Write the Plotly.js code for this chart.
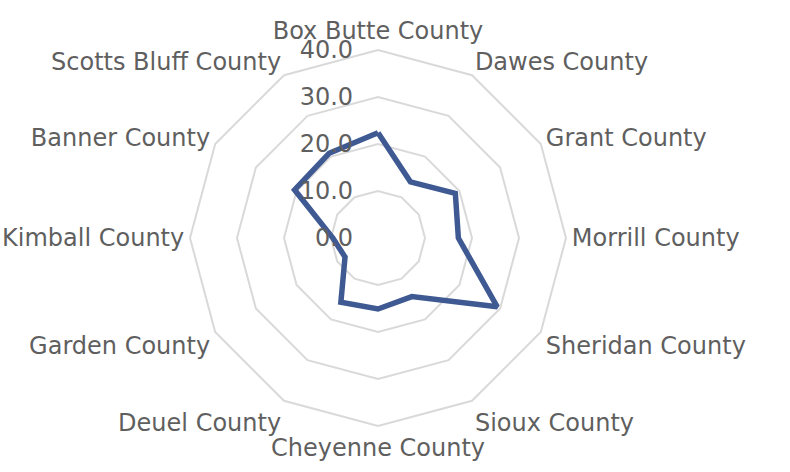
<!DOCTYPE html>
<html>
<head>
<meta charset="utf-8">
<script src="https://cdn.plot.ly/plotly-3.0.1.min.js"></script>
<style>html,body{margin:0;padding:0;background:#fff;}#chart{width:790px;height:472px;}</style>
</head>
<body>
<div id="chart"></div>
<script>
const categories = ["Box Butte County","Dawes County","Grant County","Morrill County","Sheridan County","Sioux County","Cheyenne County","Deuel County","Garden County","Kimball County","Banner County","Scotts Bluff County"];
const values = [22.4, 13.8, 19.0, 17.1, 29.3, 14.4, 15.1, 15.8, 8.1, 9.6, 20.5, 20.8];
const radialTicks = [0, 10, 20, 30, 40];
const radialTickText = ["0.0", "10.0", "20.0", "30.0", "40.0"];

const trace = {
  type: 'scatterpolar',
  r: values.concat([values[0]]),
  theta: categories.concat([categories[0]]),
  mode: 'lines',
  line: {color: '#3F5A93', width: 5.5},
  hoverinfo: 'skip'
};

const layout = {
  width: 790, height: 472,
  margin: {l: 190, r: 224, t: 50, b: 46},
  paper_bgcolor: '#ffffff',
  showlegend: false,
  font: {family: 'DejaVu Sans, sans-serif', size: 24, color: '#595959'},
  polar: {
    bgcolor: 'rgba(0,0,0,0)',
    gridshape: 'linear',
    angularaxis: {
      type: 'category',
      categoryorder: 'array',
      categoryarray: categories,
      direction: 'clockwise',
      rotation: 90,
      showline: true,
      linecolor: '#D9D9D9',
      linewidth: 2,
      showgrid: false,
      ticks: '',
      tickfont: {family: 'DejaVu Sans, sans-serif', size: 24, color: '#5f5f5f'}
    },
    radialaxis: {
      range: [0, 40],
      tickvals: radialTicks,
      ticktext: radialTickText,
      angle: 90,
      tickangle: 90,
      side: 'counterclockwise',
      showline: false,
      showgrid: true,
      gridcolor: '#D9D9D9',
      gridwidth: 2,
      ticks: 'outside',
      ticklen: 16,
      tickcolor: 'rgba(0,0,0,0)',
      tickfont: {family: 'DejaVu Sans, sans-serif', size: 24, color: '#5f5f5f'}
    }
  }
};

Plotly.newPlot('chart', [trace], layout, {displayModeBar: false, staticPlot: true});
</script>
</body>
</html>
